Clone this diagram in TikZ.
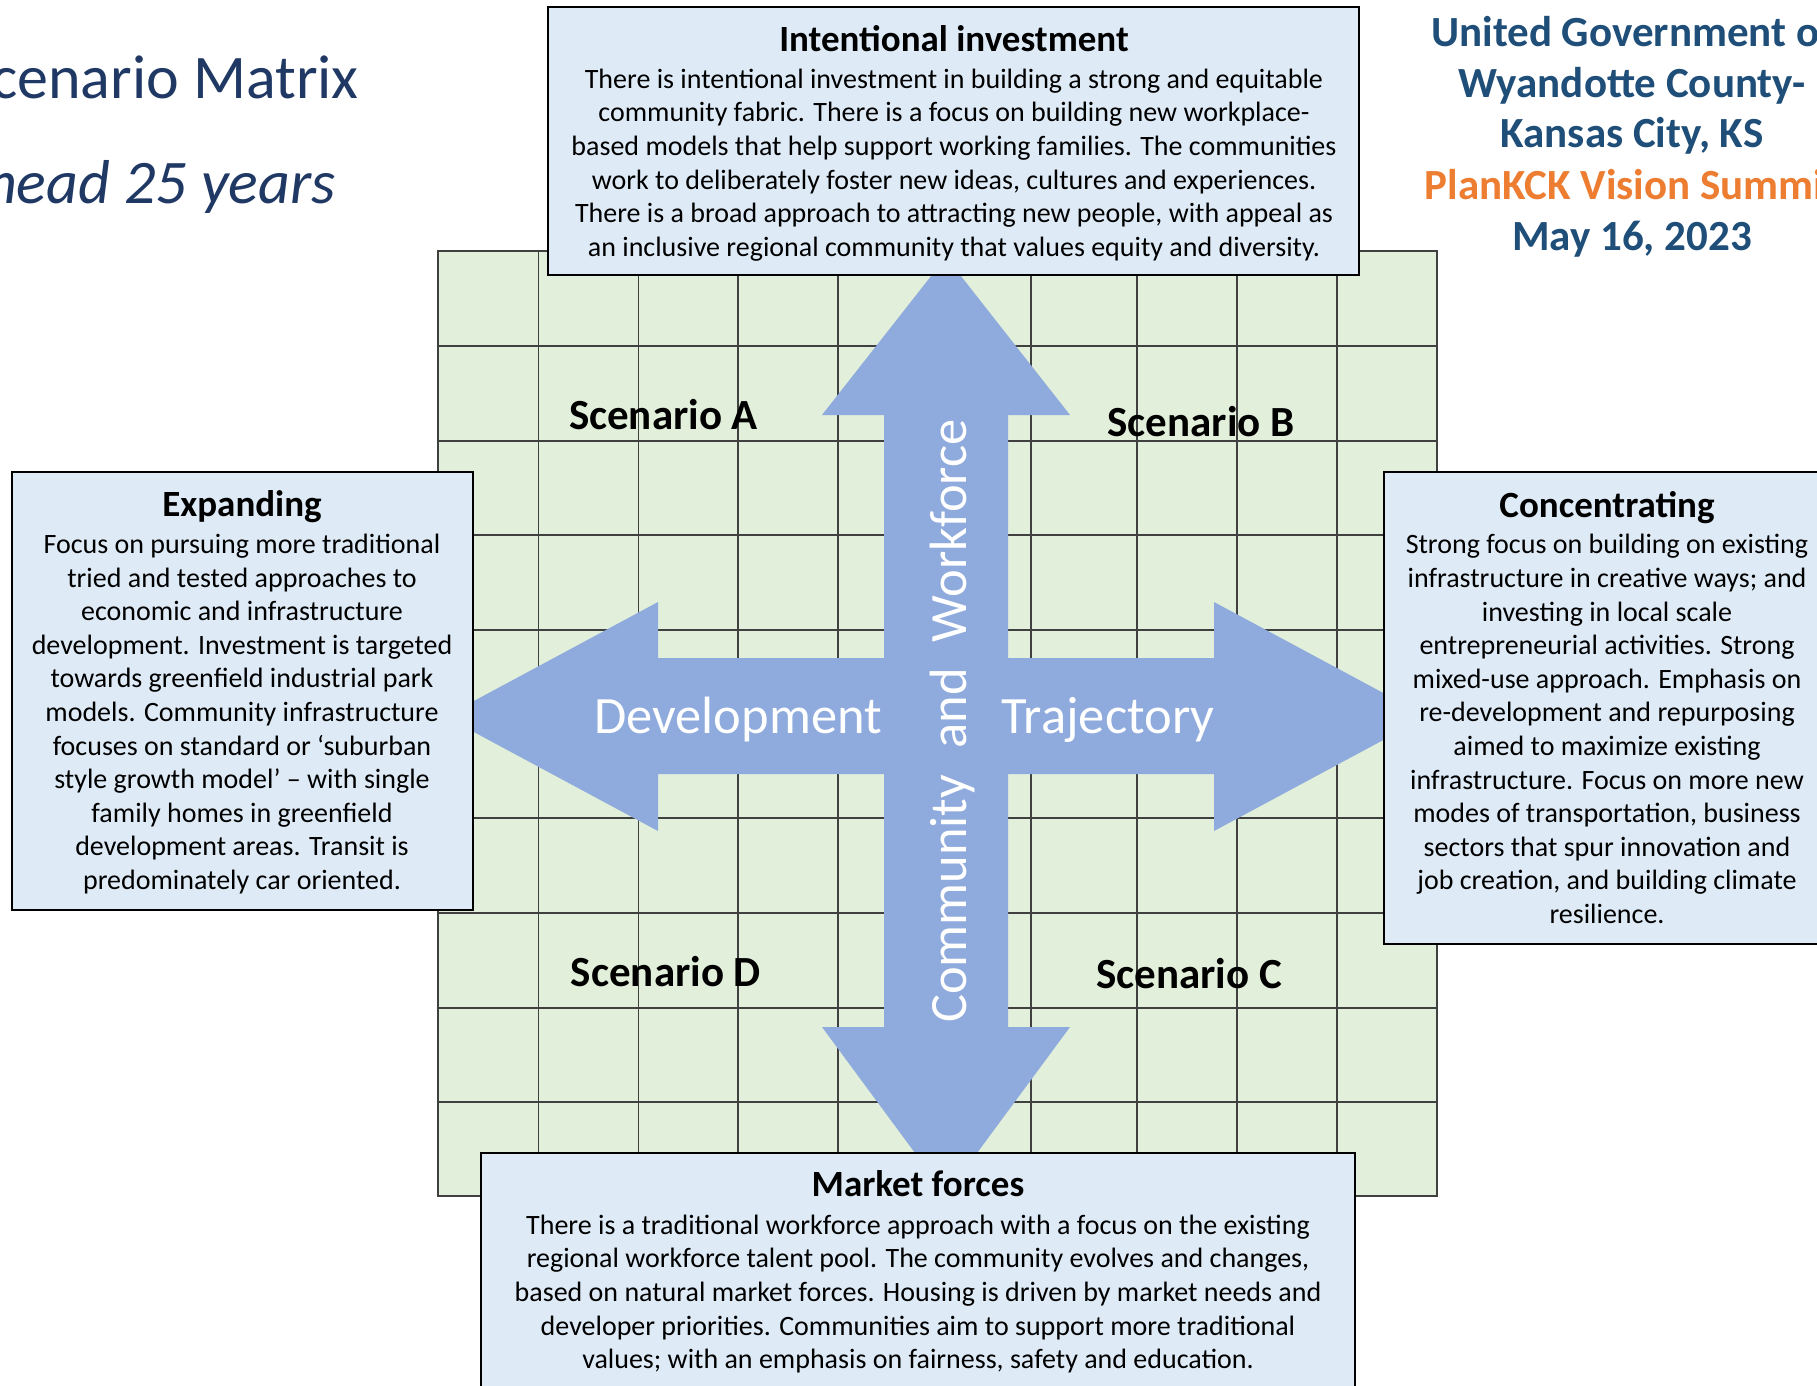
\documentclass[tikz,border=0pt]{standalone}
\usepackage{fontspec}
\setmainfont{Carlito}
\definecolor{gridfill}{HTML}{E2EFDA}
\definecolor{boxfill}{HTML}{DEEBF7}
\definecolor{arrowfill}{HTML}{8FAADC}
\definecolor{titlenavy}{HTML}{1F3864}
\definecolor{headblue}{HTML}{1F4E79}
\definecolor{headorange}{HTML}{ED7D31}
\begin{document}
\begin{tikzpicture}[x=1pt,y=-1pt,
  textbox/.style={draw=black, line width=2pt, fill=boxfill},
  gridline/.style={draw=black!75, line width=1.4pt},
  boxtitle/.style={font=\bfseries\fontsize{37}{44}\selectfont, inner sep=0pt, anchor=base},
  boxbody/.style={font=\fontsize{28}{33.6}\selectfont, align=center, inner sep=0pt},
  scen/.style={font=\bfseries\fontsize{43}{51}\selectfont, inner sep=0pt, anchor=base},
  axislabel/.style={font=\fontsize{52.5}{62}\selectfont, text=white, inner sep=0pt, anchor=base},
  hdr/.style={font=\bfseries\fontsize{43}{51}\selectfont, text=headblue, inner sep=0pt, anchor=base},
  pagetitle/.style={font=\fontsize{62}{74}\selectfont, text=titlenavy, inner sep=0pt, anchor=base east},
]
\useasboundingbox (0,0) rectangle (1817,1385);
\clip (0,0) rectangle (1817,1385);
\fill[white] (0,0) rectangle (1817,1385);

% grid
\fill[gridfill] (438,251) rectangle (1437,1196);
\foreach \gx in {538.5,638.5,738,838,935,1031,1137,1237,1337}
  \draw[gridline] (\gx,251) -- (\gx,1196);
\foreach \gy in {346,441,535,630,724,818,913,1008,1102}
  \draw[gridline] (438,\gy) -- (1437,\gy);
\draw[gridline] (438,251) rectangle (1437,1196);

% arrows
\fill[arrowfill] (946,257) -- (1070,415) -- (1008,415) -- (1008,1027) -- (1070,1027)
  -- (946,1195) -- (822,1027) -- (884,1027) -- (884,415) -- (822,415) -- cycle;
\fill[arrowfill] (445,716.5) -- (658,602) -- (658,658) -- (1214,658) -- (1214,602)
  -- (1427,716.5) -- (1214,831) -- (1214,774) -- (658,774) -- (658,831) -- cycle;

\node[axislabel] (dev) at (738,733) {Development};
\node[axislabel] (traj) at (1108,733) {Trajectory};
\node[axislabel, rotate=90] (comm) at (966,721) {Community\hspace{0.5em}and\hspace{0.5em}Workforce};

% scenario labels
\node[scen] (sa) at (663.5,429) {Scenario A};
\node[scen] (sb) at (1201,436) {Scenario B};
\node[scen] (sd) at (666,986) {Scenario D};
\node[scen] (sc) at (1189,988) {Scenario C};

% boxes
\draw[textbox] (548,7) rectangle (1359,275);
\draw[textbox] (12,472) rectangle (473,910);
\draw[textbox] (1384,472) rectangle (1830,944);
\draw[textbox] (481,1153) rectangle (1355,1400);

\node[boxtitle] (tit) at (954,51) {Intentional investment};
\node[boxbody] (tbody) at (954,165) {There is intentional investment in building a strong and equitable\\
community fabric. There is a focus on building new workplace-\\
based models that help support working families. The communities\\
work to deliberately foster new ideas, cultures and experiences.\\
There is a broad approach to attracting new people, with appeal as\\
an inclusive regional community that values equity and diversity.};

\node[boxtitle] (lit) at (242,516) {Expanding};
\node[boxbody] (lbody) at (242,714) {Focus on pursuing more traditional\\
tried and tested approaches to\\
economic and infrastructure\\
development. Investment is targeted\\
towards greenfield industrial park\\
models. Community infrastructure\\
focuses on standard or ‘suburban\\
style growth model’ – with single\\
family homes in greenfield\\
development areas. Transit is\\
predominately car oriented.};

\node[boxtitle] (rit) at (1607,517) {Concentrating};
\node[boxbody] (rbody) at (1607,729) {Strong focus on building on existing\\
infrastructure in creative ways; and\\
investing in local scale\\
entrepreneurial activities. Strong\\
mixed-use approach. Emphasis on\\
re-development and repurposing\\
aimed to maximize existing\\
infrastructure. Focus on more new\\
modes of transportation, business\\
sectors that spur innovation and\\
job creation, and building climate\\
resilience.};

\node[boxtitle] (bit) at (918,1196) {Market forces};
\node[boxbody] (bbody) at (918,1294) {There is a traditional workforce approach with a focus on the existing\\
regional workforce talent pool. The community evolves and changes,\\
based on natural market forces. Housing is driven by market needs and\\
developer priorities. Communities aim to support more traditional\\
values; with an emphasis on fairness, safety and education.};

% page titles
\node[pagetitle] (pt1) at (359,98) {Scenario Matrix};
\node[pagetitle, font=\itshape\fontsize{62}{74}\selectfont] (pt2) at (336,203) {ahead 25 years};

\node[hdr] (h1) at (1632,46) {United Government of};
\node[hdr] (h2) at (1632,97) {Wyandotte County-};
\node[hdr] (h3) at (1632,147) {Kansas City, KS};
\node[hdr, text=headorange] (h4) at (1632,199) {PlanKCK Vision Summit};
\node[hdr] (h5) at (1632,250) {May 16, 2023};
\end{tikzpicture}
\end{document}
